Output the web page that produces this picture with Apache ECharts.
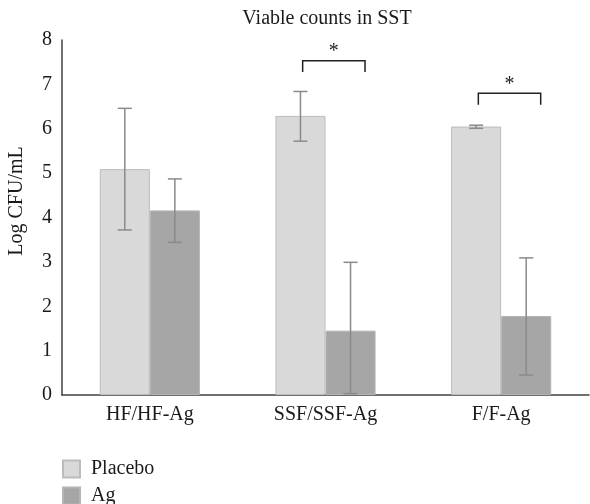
<!DOCTYPE html>
<html>
<head>
<meta charset="utf-8">
<script src="https://cdn.jsdelivr.net/npm/echarts@6/dist/echarts.min.js"></script>
<style>html,body{margin:0;padding:0;background:#fff;}#c{width:590px;height:504px;}</style>
</head>
<body>
<div id="c"></div>
<script>
const categories = ['HF/HF-Ag', 'SSF/SSF-Ag', 'F/F-Ag'];
const seriesNames = ['Placebo', 'Ag'];
const placeboMeans = [5.09, 6.29, 6.05];
const placeboLow = [3.72, 5.72, 6.01];
const placeboHigh = [6.46, 6.84, 6.08];
const agMeans = [4.16, 1.45, 1.78];
const agLow = [3.44, 0.03, 0.45];
const agHigh = [4.87, 2.99, 3.09];
const bracketCats = [1, 2];
const bracketTop = [7.53, 6.80];
const bracketLeg = [7.28, 6.54];
const yTicks = [0, 1, 2, 3, 4, 5, 6, 7, 8];

const FONT = 'Liberation Serif';
const FS = 20;
const GAP = 0.43;

function errSeries(name, low, high, side) {
  return {
    type: 'custom', name: name + ' err', z: 5,
    data: low.map((l, i) => [i, l, high[i]]),
    encode: { x: 0, y: [1, 2] },
    renderItem: function (params, api) {
      const c = api.value(0);
      const w = api.size([1, 0])[0];
      const off = side * w * (1 - GAP) / 4;
      const lo = api.coord([c, api.value(1)]);
      const hi = api.coord([c, api.value(2)]);
      const x = lo[0] + off;
      const cap = 7;
      const st = { stroke: '#8a8a8a', lineWidth: 1.5 };
      return {
        type: 'group', children: [
          { type: 'line', shape: { x1: x, y1: lo[1], x2: x, y2: hi[1] }, style: st },
          { type: 'line', shape: { x1: x - cap, y1: lo[1], x2: x + cap, y2: lo[1] }, style: st },
          { type: 'line', shape: { x1: x - cap, y1: hi[1], x2: x + cap, y2: hi[1] }, style: st }
        ]
      };
    }
  };
}

function legendFor(name, top) {
  return {
    data: [name], orient: 'vertical', left: 62, top: top, padding: 0,
    itemWidth: 17, itemHeight: 17, icon: 'rect',
    textStyle: { fontFamily: FONT, fontSize: FS, lineHeight: 17, color: '#1a1a1a', padding: [0, 0, 0, 6] }
  };
}

const chart = echarts.init(document.getElementById('c'), null, { renderer: 'canvas' });
chart.setOption({
  animation: false,
  backgroundColor: '#fff',
  textStyle: { fontFamily: FONT },
  title: {
    text: 'Viable counts in SST', left: 327, top: 9, textAlign: 'center', padding: 0,
    textStyle: { fontFamily: FONT, fontSize: FS, fontWeight: 'normal', color: '#1a1a1a' }
  },
  graphic: [{
    type: 'text', x: 17, y: 201, rotation: Math.PI / 2,
    style: { text: 'Log CFU/mL', fontFamily: FONT, fontSize: FS, fill: '#1a1a1a', align: 'center', verticalAlign: 'middle' }
  }],
  grid: { left: 62, right: 1, top: 40, bottom: 109, containLabel: false, outerBoundsMode: 'none' },
  legend: [legendFor(seriesNames[0], 459), legendFor(seriesNames[1], 486)],
  xAxis: {
    type: 'category', data: categories,
    axisLine: { lineStyle: { color: '#404040', width: 1.5 } },
    axisTick: { show: false },
    axisLabel: { fontFamily: FONT, fontSize: FS, color: '#1a1a1a', margin: 10 }
  },
  yAxis: {
    type: 'value', min: 0, max: 8, interval: 1,
    axisLine: { show: true, lineStyle: { color: '#404040', width: 1.5 } },
    axisTick: { show: false },
    splitLine: { show: false },
    axisLabel: {
      fontFamily: FONT, fontSize: FS, color: '#1a1a1a', margin: 10,
      formatter: v => yTicks.includes(v) ? String(v) : ''
    }
  },
  series: [
    {
      name: seriesNames[0], type: 'bar', data: placeboMeans, barGap: '0%', barCategoryGap: (GAP * 100) + '%',
      itemStyle: { color: '#d9d9d9', borderColor: '#bcbcbc', borderWidth: 1 }
    },
    {
      name: seriesNames[1], type: 'bar', data: agMeans,
      itemStyle: { color: '#a6a6a6', borderColor: '#b4b4b4', borderWidth: 1 }
    },
    errSeries('Placebo', placeboLow, placeboHigh, -1),
    errSeries('Ag', agLow, agHigh, 1),
    {
      type: 'custom', name: 'sig', z: 6,
      data: bracketCats.map((c, i) => [c, bracketTop[i], bracketLeg[i]]),
      encode: { x: 0, y: [1, 2] },
      renderItem: function (params, api) {
        const c = api.value(0);
        const w = api.size([1, 0])[0];
        const top = api.coord([c, api.value(1)]);
        const leg = api.coord([c, api.value(2)]);
        const x1 = top[0] - 0.13 * w, x2 = top[0] + 0.225 * w;
        return {
          type: 'group', children: [
            { type: 'polyline', shape: { points: [[x1, leg[1]], [x1, top[1]], [x2, top[1]], [x2, leg[1]]] },
              style: { stroke: '#222', lineWidth: 1.5, fill: null } },
            { type: 'text', x: (x1 + x2) / 2, y: top[1] + 1,
              style: { text: '*', fontFamily: FONT, fontSize: 20, fill: '#222', align: 'center', verticalAlign: 'bottom' } }
          ]
        };
      }
    }
  ]
});
</script>
</body>
</html>
